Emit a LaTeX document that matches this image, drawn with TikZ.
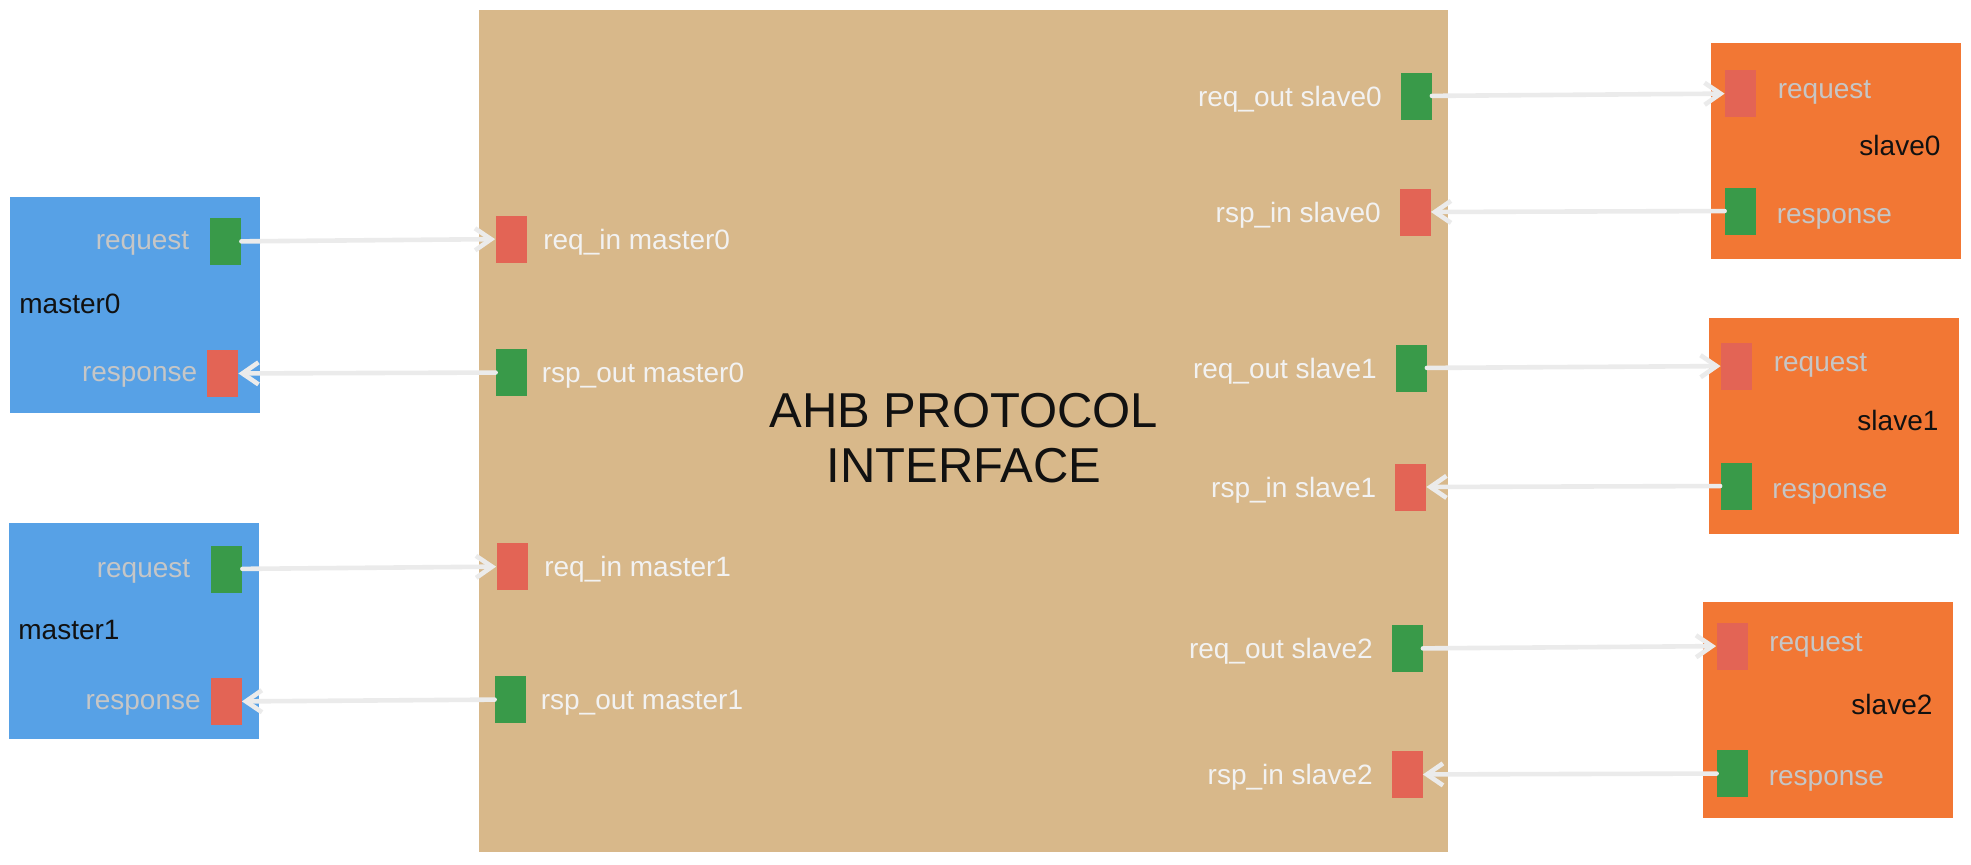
\documentclass[tikz,border=0pt]{standalone}
\usepackage{fontspec}
\setmainfont{Liberation Sans}
\usetikzlibrary{positioning,arrows.meta}

\definecolor{masterblue}{HTML}{57A1E6}
\definecolor{ifacetan}{HTML}{D8B88A}
\definecolor{slaveorange}{HTML}{F27734}
\definecolor{portgreen}{HTML}{399A49}
\definecolor{portred}{HTML}{E36455}
\definecolor{linkgray}{HTML}{EBEBEB}
\definecolor{dimtext}{HTML}{C6C6C6}
\definecolor{iftext}{HTML}{F2F2F2}
\definecolor{nametext}{HTML}{111111}

\tikzset{
  block/.style    = {rectangle, inner sep=0pt, minimum width=125pt, minimum height=108pt, anchor=north west},
  master/.style   = {block, fill=masterblue},
  slave/.style    = {block, fill=slaveorange},
  iface/.style    = {rectangle, inner sep=0pt, fill=ifacetan, anchor=north west,
                     minimum width=484.5pt, minimum height=421pt},
  title/.style    = {inner sep=0pt, align=center, text=nametext,
                     font=\fontsize{24.5}{27.5}\selectfont},
  port/.style     = {rectangle, inner sep=0pt, minimum width=15.5pt, minimum height=23.5pt},
  portg/.style    = {port, fill=portgreen},
  portr/.style    = {port, fill=portred},
  lbl/.style      = {inner sep=0pt, text height=0.72em, text depth=0.2em,
                     font=\fontsize{14}{16}\selectfont},
  mlbl/.style     = {lbl, text=dimtext, yshift=-1.5pt},
  sreqlbl/.style  = {lbl, text=dimtext},
  srsplbl/.style  = {lbl, text=dimtext, yshift=-3.5pt},
  iflbl/.style    = {lbl, text=iftext, yshift=-2.5pt},
  blockname/.style= {lbl, text=nametext},
  link/.style     = {draw=linkgray, line width=2.3pt, line cap=round,
                     -{Straight Barb[length=8pt,width=11pt]}},
}

\begin{document}
\begin{tikzpicture}[x=0.5pt, y=-0.5pt]
\useasboundingbox (0,0) rectangle (1971,864);

\node[iface] (ahb) at (479,10) {};
\node[title] (ahbtitle) at ([yshift=-3.5pt]ahb.center) {AHB PROTOCOL\\INTERFACE};

% masters: box, request port, response port, req_in, rsp_out
\foreach \n/\bx/\by/\qx/\qy/\rx/\ry/\ix/\iy/\ox/\oy in {
    0/10/197/225.5/241.5/222.5/373.5/511/239/511.5/372.5,
    1/9/523/226.5/569/226/701.5/512/566.5/510.5/699.5} {
  \node[master] (master\n) at (\bx,\by) {};
  \node[blockname, anchor=west] (mname\n) at ([xshift=4.5pt,yshift=-1.5pt]master\n.west) {master\n};
  \node[portg] (mreq\n) at (\qx,\qy) {};
  \node[portr] (mrsp\n) at (\rx,\ry) {};
  \node[mlbl, left=10pt of mreq\n] (mreqlbl\n) {request};
  \node[mlbl, left=4.5pt of mrsp\n] (mrsplbl\n) {response};
  \node[portr] (reqin\n) at (\ix,\iy) {};
  \node[portg] (rspout\n) at (\ox,\oy) {};
  \node[iflbl, right=8pt of reqin\n] (reqinlbl\n) {req\_in master\n};
  \node[iflbl, right=7pt of rspout\n] (rspoutlbl\n) {rsp\_out master\n};
  \draw[link] (mreq\n) -- (reqin\n);
  \draw[link] (rspout\n) -- (mrsp\n);
}

% slaves: box, request port, response port, req_out, rsp_in
\foreach \n/\bx/\by/\qx/\qy/\rx/\ry/\ix/\iy/\ox/\oy in {
    0/1711/43/1740.5/93.5/1740.5/211/1416/96/1415/212,
    1/1709/318/1736.5/366/1736/486/1411/368/1410.5/487,
    2/1703/602/1732/646/1732.5/773.5/1407/648.5/1407/774.5} {
  \node[slave] (slave\n) at (\bx,\by) {};
  \node[blockname, anchor=east] (sname\n) at ([xshift=-10.5pt,yshift=0.5pt]slave\n.east) {slave\n};
  \node[portr] (sreq\n) at (\qx,\qy) {};
  \node[portg] (srsp\n) at (\rx,\ry) {};
  \node[sreqlbl, right=10.5pt of sreq\n] (sreqlbl\n) {request};
  \node[srsplbl, right=10pt of srsp\n] (srsplbl\n) {response};
  \node[portg] (reqout\n) at (\ix,\iy) {};
  \node[portr] (rspin\n) at (\ox,\oy) {};
  \node[iflbl, left=9pt of reqout\n] (reqoutlbl\n) {req\_out slave\n};
  \node[iflbl, left=9pt of rspin\n] (rspinlbl\n) {rsp\_in slave\n};
  \draw[link] (reqout\n) -- (sreq\n);
  \draw[link] (srsp\n) -- (rspin\n);
}
\end{tikzpicture}
\end{document}
